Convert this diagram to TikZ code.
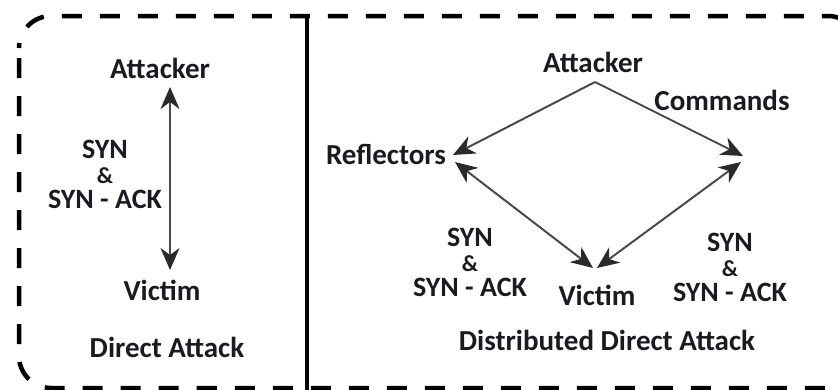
\documentclass[tikz,border=0pt]{standalone}
\usepackage{fontspec}
\setmainfont{Carlito}
\usetikzlibrary{arrows.meta}
\definecolor{ink}{HTML}{1A1A22}
\definecolor{wire}{HTML}{4A4A4A}
\definecolor{head}{HTML}{2A2A2A}
\tikzset{
  lbl/.style={font=\bfseries\fontsize{29}{24}\selectfont, text=ink, inner sep=0pt, align=center},
  syn/.style={font=\bfseries\fontsize{28}{22}\selectfont, text=ink, inner sep=0pt, align=center},
  link/.style={draw=wire, line width=2pt},
  frame/.style={draw=black, line width=4.5pt, dash pattern=on 20pt off 18pt, dash phase=-10pt, rounded corners=32pt},
  both/.style={link, {Stealth[length=22pt, width=19pt, inset=7pt, color=head]}-{Stealth[length=22pt, width=19pt, inset=7pt, color=head]}},
  single/.style={link, -{Stealth[length=22pt, width=19pt, inset=7pt, color=head]}},
}
\newcommand{\synack}{SYN\\[3pt]{\fontsize{23}{22}\selectfont\&}\\[3pt]SYN - ACK}
\begin{document}
\begin{tikzpicture}[x=1pt, y=-1pt]
\useasboundingbox (0,0) rectangle (838,389);
\clip (0,0) rectangle (838,389);
% outer dashed frame and panel divider
\draw[frame] (19,16) rectangle (860,388);
\draw[line width=4pt] (307,16) -- (307,392);

% --- left panel: direct attack
\node[lbl] (a1) at (160,68) {Attacker};
\node[lbl] (v1) at (162,290) {Victim};
\node[syn] (s1) at (105,174) {\synack};
\node[lbl] (t1) at (167,347) {Direct Attack};
\coordinate (a1b) at (170,87);
\coordinate (v1t) at (170,270);
\draw[both] (a1b) -- (v1t);

% --- right panel: distributed direct attack
\node[lbl] (a2) at (593,62) {Attacker};
\node[lbl] (cm) at (722,100) {Commands};
\node[lbl] (rf) at (386,154) {Reflectors};
\node[lbl] (v2) at (597,295) {Victim};
\node[syn] (s2) at (470,262) {\synack};
\node[syn] (s3) at (730,267) {\synack};
\node[lbl] (t2) at (607,340) {Distributed Direct Attack};

\coordinate (apex) at (595,82);
\coordinate (rfin) at (453,155);
\coordinate (rfout) at (455,162);
\coordinate (cmin) at (743,156);
\coordinate (cmout) at (741,162);
\coordinate (vl) at (593,268);
\coordinate (vr) at (597,268);

\draw[single] (apex) -- (rfin);
\draw[single] (apex) -- (cmin);
\draw[both] (rfout) -- (vl);
\draw[both] (cmout) -- (vr);
\end{tikzpicture}
\end{document}
